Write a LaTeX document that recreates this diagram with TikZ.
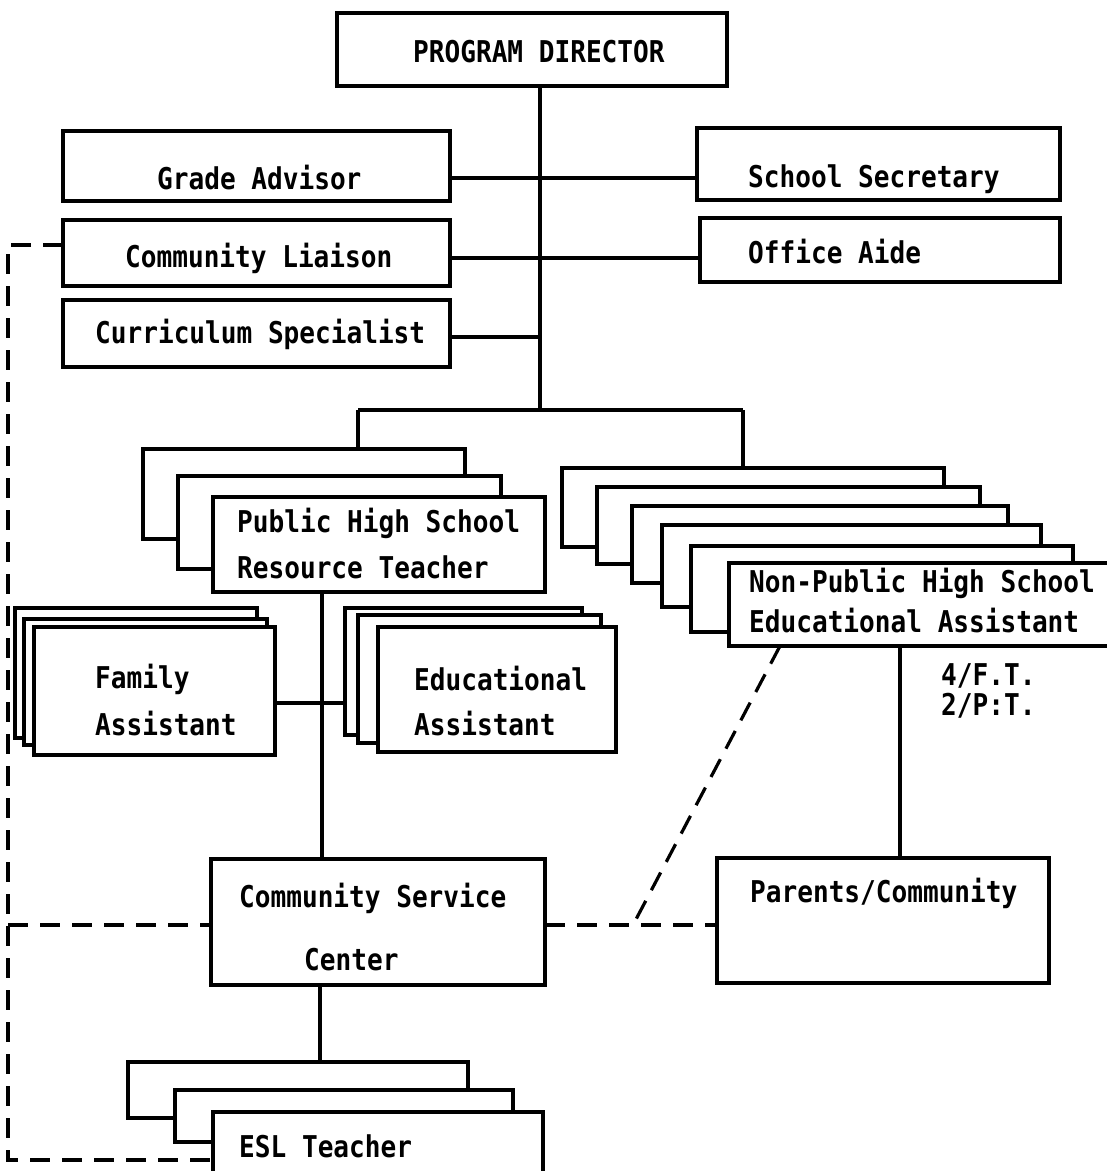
\documentclass[tikz,border=0pt]{standalone}
\usepackage{fontspec}
\newfontfamily\tw{DejaVu Sans Mono}[FakeStretch=0.87]
\newcommand{\mybox}[5]{\node[box, minimum width={#4-#2}, minimum height={#5-#3}] (#1) at ({(#2+#4)/2},{(#3+#5)/2}) {};}
\begin{document}
\begin{tikzpicture}[x=1pt,y=-1pt,
  box/.style={draw, line width=3.2pt, fill=white, inner sep=0pt, outer sep=0pt},
  lbl/.style={anchor=base west, inner sep=0pt, font=\tw\bfseries\fontsize{30}{34}\selectfont},
  conn/.style={line width=3.2pt},
  dsh/.style={line width=3.2pt, dash pattern=on 20pt off 12pt}]
\useasboundingbox (0,0) rectangle (1107,1171);
\fill[white] (0,0) rectangle (1107,1171);

% top boxes
\mybox{pd}{337}{13}{727}{86}
\mybox{ga}{63}{131}{450}{201}
\mybox{ss}{697}{128}{1060}{200}
\mybox{cl}{63}{220}{450}{286}
\mybox{oa}{700}{218}{1060}{282}
\mybox{cs}{63}{300}{450}{367}

% public high school stack
\mybox{pa}{143}{449}{465}{539}
\mybox{pb}{178}{476}{501}{569}
\mybox{pc}{213}{497}{545}{592}

% non-public stack
\mybox{ra}{562}{468}{944}{547}
\mybox{rb}{597}{487}{980}{564}
\mybox{rc}{632}{506}{1008}{583}
\mybox{rd}{662}{525}{1041}{607}
\mybox{re}{691}{546}{1073}{632}
\mybox{rf}{729}{563}{1125}{646}

% family assistant stack
\mybox{fa}{15}{608}{257}{738}
\mybox{fb}{24}{619}{267}{745}
\mybox{fc}{34}{627}{275}{755}

% educational assistant stack
\mybox{ea}{345}{608}{582}{735}
\mybox{eb}{358}{615}{601}{743}
\mybox{ec}{378}{627}{616}{752}

% community service center, parents
\mybox{csc}{211}{859}{545}{985}
\mybox{pcm}{717}{858}{1049}{983}

% ESL stack
\mybox{sa}{128}{1062}{468}{1118}
\mybox{sb}{175}{1090}{513}{1142}
\mybox{sc}{213}{1112}{543}{1185}

% labels
\node[lbl] (pdl) at (413,62) {PROGRAM DIRECTOR};
\node[lbl] (gal) at (157,189) {Grade Advisor};
\node[lbl] (ssl) at (748,187) {School Secretary};
\node[lbl] (cll) at (125,267) {Community Liaison};
\node[lbl] (oal) at (748,263) {Office Aide};
\node[lbl] (csl) at (95,343) {Curriculum Specialist};
\node[lbl] (pcl1) at (237,532) {Public High School};
\node[lbl] (pcl2) at (237,578) {Resource Teacher};
\node[lbl] (fal1) at (95,688) {Family};
\node[lbl] (fal2) at (95,735) {Assistant};
\node[lbl] (eal1) at (414,690) {Educational};
\node[lbl] (eal2) at (414,735) {Assistant};
\node[lbl] (npl1) at (749,592) {Non-Public High School};
\node[lbl] (npl2) at (749,632) {Educational Assistant};
\node[lbl] (ftl1) at (941,685) {4/F.T.};
\node[lbl] (ftl2) at (941,715) {2/P:T.};
\node[lbl] (cscl1) at (239,907) {Community Service};
\node[lbl] (cscl2) at (304,970) {Center};
\node[lbl] (pcml) at (750,902) {Parents/Community};
\node[lbl] (scl) at (239,1157) {ESL Teacher};

% coordinates
\coordinate (tr) at (540,410);
\coordinate (bl) at (358,410);
\coordinate (br) at (743,410);
\coordinate (y178) at (0,178);
\coordinate (y258) at (0,258);
\coordinate (y337) at (0,337);
\coordinate (y703) at (0,703);
\coordinate (x322) at (322,0);
\coordinate (x320) at (320,0);
\coordinate (x900) at (900,0);
\coordinate (x780) at (780,0);
\coordinate (dtl) at (8,245);
\coordinate (dml) at (8,925);
\coordinate (dbl) at (8,1160);
\coordinate (dg) at (633,925);

% connectors
\draw[conn] (pd.south -| tr) -- (tr);
\draw[conn] (bl) -- (br);
\draw[conn] (bl) -- (bl |- pa.north);
\draw[conn] (br) -- (br |- ra.north);
\draw[conn] (ga.east |- y178) -- (ss.west |- y178);
\draw[conn] (cl.east |- y258) -- (oa.west |- y258);
\draw[conn] (cs.east |- y337) -- (tr |- y337);
\draw[conn] (pc.south -| x322) -- (csc.north -| x322);
\draw[conn] (fc.east |- y703) -- (ea.west |- y703);
\draw[conn] (csc.south -| x320) -- (sa.north -| x320);
\draw[conn] (rf.south -| x900) -- (pcm.north -| x900);

% dashed links
\draw[dsh] (cl.west |- dtl) -- (dtl) -- (dbl) -- (sc.west |- dbl);
\draw[dsh] (dml) -- (csc.west |- dml);
\draw[dsh] (csc.east |- dml) -- (pcm.west |- dml);
\draw[dsh] (rf.south -| x780) -- (dg);
\end{tikzpicture}
\end{document}
